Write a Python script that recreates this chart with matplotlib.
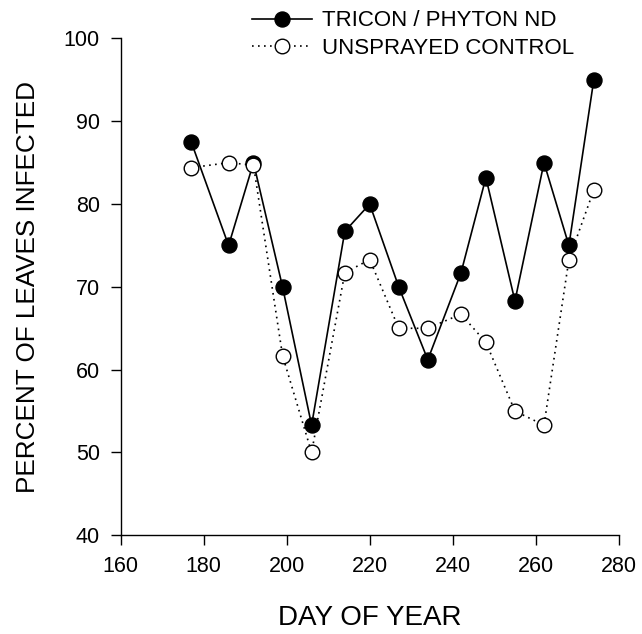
import matplotlib
matplotlib.use("Agg")
import matplotlib.pyplot as plt

plt.rcParams["font.family"] = ["Liberation Sans", "DejaVu Sans"]

# Sampling days and percent of leaves infected
days = [177, 186, 192, 199, 206, 214, 220, 227, 234, 242, 248, 255, 262, 268, 274]
tricon = [87.5, 75.0, 85.0, 70.0, 53.3, 76.7, 80.0, 70.0, 61.2, 71.7, 83.2, 68.3, 85.0, 75.0, 95.0]
control = [84.4, 85.0, 84.7, 61.7, 50.0, 71.7, 73.3, 65.0, 65.0, 66.7, 63.3, 55.0, 53.3, 73.3, 81.7]

x_ticks = [160, 180, 200, 220, 240, 260, 280]
y_ticks = [40, 50, 60, 70, 80, 90, 100]

fig = plt.figure(figsize=(6.42, 6.34), dpi=100)
ax = fig.add_axes([0.188, 0.1557, 0.7757, 0.7836])

ax.plot(days, tricon, color="black", linestyle="-", linewidth=1.2,
        marker="o", markersize=10.8, markerfacecolor="black",
        markeredgecolor="black", label="TRICON / PHYTON ND", zorder=3)
ax.plot(days, control, color="black", linestyle=(0, (1, 2.6)), linewidth=1.2,
        marker="o", markersize=10.5, markerfacecolor="white",
        markeredgecolor="black", markeredgewidth=1.0,
        label="UNSPRAYED CONTROL", zorder=4)

ax.set_xlim(160, 280)
ax.set_ylim(40, 100)
ax.set_xticks(x_ticks)
ax.set_yticks(y_ticks)
ax.tick_params(direction="out", length=7.5, width=1.0, labelsize=15.5, pad=7.5)

for side in ["top", "right"]:
    ax.spines[side].set_visible(False)
for side in ["left", "bottom"]:
    ax.spines[side].set_linewidth(1.0)

ax.set_xlabel("DAY OF YEAR", fontsize=20, labelpad=20)
ax.set_ylabel("PERCENT OF LEAVES INFECTED", fontsize=18.8, labelpad=17)

fig.legend(loc="upper left", bbox_to_anchor=(0.385, 0.9905), frameon=False,
           fontsize=16, handlelength=2.7, handletextpad=0.45,
           labelspacing=0.3, borderpad=0.2, borderaxespad=0)

fig.savefig("out.png", dpi=100)
